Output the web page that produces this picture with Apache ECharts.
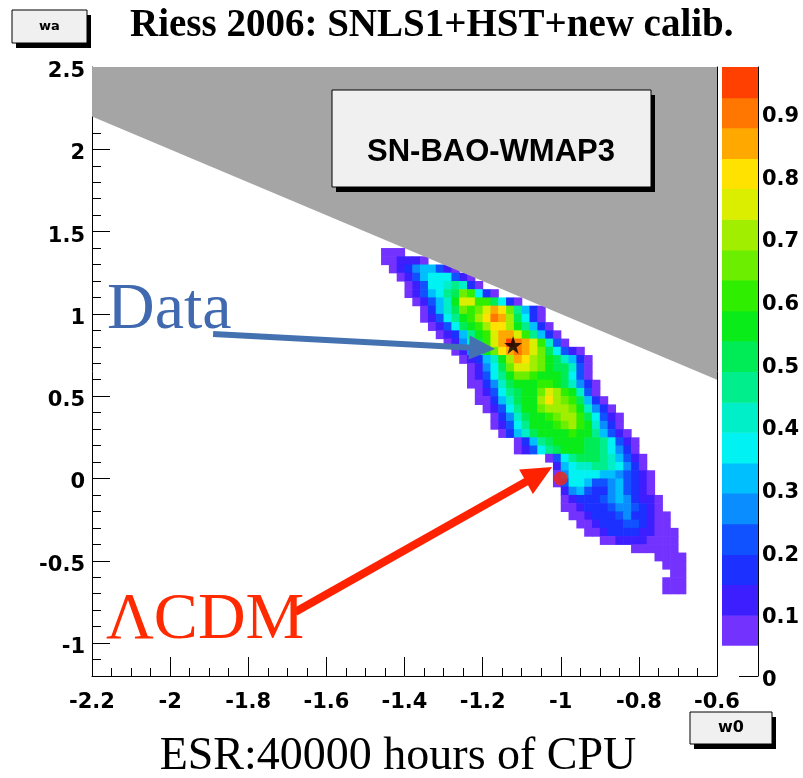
<!DOCTYPE html>
<html>
<head>
<meta charset="utf-8">
<script src="https://cdn.jsdelivr.net/npm/echarts@6/dist/echarts.min.js"></script>
<style>
  html, body { margin: 0; padding: 0; background: #fff; }
  #chart { width: 803px; height: 778px; }
</style>
</head>
<body>
<div id="chart"></div>
<script>
// axis ticks
const w0Ticks = [-2.2, -2, -1.8, -1.6, -1.4, -1.2, -1, -0.8, -0.6];
const waTicks = [-1, -0.5, 0, 0.5, 1, 1.5, 2, 2.5];
const zTicks = [0, 0.1, 0.2, 0.3, 0.4, 0.5, 0.6, 0.7, 0.8, 0.9];

// contour level edges of the palette (level 0 is left white)
const levels = [0, 0.049, 0.097, 0.146, 0.194, 0.243, 0.292, 0.340, 0.389, 0.437, 0.486,
                0.535, 0.583, 0.632, 0.680, 0.729, 0.778, 0.826, 0.875, 0.923, 0.972];
const palette = ['#7432ff', '#3c1eff', '#1c30ff', '#1052ff', '#0a8eff', '#00bfff', '#00f2f2',
                 '#00eec8', '#00ee8c', '#00ec56', '#0aec1a', '#30ee00', '#6cee00', '#a2ee00',
                 '#dcee00', '#ffe200', '#ffa800', '#ff7600', '#ff4000'];

// histogram binning of the likelihood map
const w0Lo = -1.46, w0Bin = 0.02;
const waHi = 1.45, waBin = 0.05;

// one row per wa bin (top to bottom): [first w0 bin, level codes], '1'..'9','a'..'j' = level 1..19
const likelihoodRows = [
  [0, ''],
  [0, '111'],
  [0, '112221'],
  [1, '123566421'],
  [2, '1246777421'],
  [3, '1247789831'],
  [3, '124679adc731'],
  [4, '12468bffcca731'],
  [5, '1368adcdfhgd9631'],
  [5, '12479bcegihea731'],
  [6, '1247abceggeb9631'],
  [7, '12369bcfhhfc9631'],
  [8, '1258acfhjihfc841'],
  [9, '1258bdghihfda7421'],
  [10, '12368behgedba8631'],
  [11, '1257adffedbaa841'],
  [11, '12479bddcbbba741'],
  [11, '11358abbbccba8531'],
  [12, '12479abbdfecb841'],
  [12, '11368abbegedca631'],
  [13, '12479bbdeeedb8531'],
  [14, '1358abbcdeeca7421'],
  [14, '12479bbbcdecb8531'],
  [15, '1368abbbbcbb96421'],
  [17, '1369abbbbaa97421'],
  [17, '12479abbbaa97531'],
  [21, '1479aaa986421'],
  [22, '267889987531'],
  [22, '1577776654321'],
  [22, '1477644564321'],
  [23, '256433564321'],
  [23, '1233345653221'],
  [23, '1123334554321'],
  [24, '1123334533211'],
  [25, '112333443211'],
  [26, '112333322111'],
  [28, '1122221111'],
  [32, '111111'],
  [35, '1111'],
  [36, '111'],
  [37, '11'],
  [36, '111'],
  [36, '111'],
  [0, '']
];

// excluded region (w0 + wa > 0)
const excluded = [[-2.2, 2.2], [-0.6, 0.6], [-0.6, 2.5], [-2.2, 2.5]];

const bestFit = [-1.122, 0.811];
const lcdmPoint = [-1, 0];

// annotation arrows: [fromW0, fromWa, toW0, toWa]
const dataArrow = [-1.89, 0.878, -1.168, 0.787];
const lcdmArrow = [-1.68, -0.811, -1.022, 0.07];
const arrowStyles = [
  { color: '#4472b0', width: 6, headLen: 26, headW: 24 },
  { color: '#ff2200', width: 8, headLen: 30, headW: 28 }
];

const cellData = [];
likelihoodRows.forEach(function (row, j) {
  const start = row[0], codes = row[1];
  for (let n = 0; n < codes.length; n++) {
    const k = parseInt(codes[n], 36);
    if (!k) continue;
    cellData.push([w0Lo + (start + n) * w0Bin, waHi - (j + 1) * waBin, k]);
  }
});

const bandData = [];
for (let k = 1; k < levels.length - 1; k++) {
  bandData.push([k, levels[k], levels[k + 1]]);
}

const labelFont = { fontFamily: 'DejaVu Sans', fontWeight: 'bold', fontSize: 21, color: '#000' };
// labels sit a few px below their tick, as in the ROOT output
const lowLabel = { verticalAlign: 'top', lineHeight: 9 };
const black = { color: '#000', width: 1 };

function renderCell(params, api) {
  const x0 = api.value(0), y0 = api.value(1), k = api.value(2);
  const p0 = api.coord([x0, y0 + waBin]);
  const p1 = api.coord([x0 + w0Bin, y0]);
  return {
    type: 'rect',
    shape: { x: p0[0], y: p0[1], width: p1[0] - p0[0] + 0.6, height: p1[1] - p0[1] + 0.6 },
    style: { fill: palette[k - 1] }
  };
}

function renderExcluded(params, api) {
  return {
    type: 'polygon',
    shape: { points: excluded.map(function (p) { return api.coord(p); }) },
    style: { fill: '#a5a5a5' }
  };
}

function renderBand(params, api) {
  const k = api.value(0);
  const p0 = api.coord([0, api.value(2)]);
  const p1 = api.coord([1, api.value(1)]);
  return {
    type: 'rect',
    shape: { x: p0[0], y: p0[1], width: p1[0] - p0[0], height: p1[1] - p0[1] + 0.5 },
    style: { fill: palette[k - 1] }
  };
}

function renderArrow(params, api) {
  const s = arrowStyles[params.dataIndex];
  const p = api.coord([api.value(0), api.value(1)]);
  const q = api.coord([api.value(2), api.value(3)]);
  const dx = q[0] - p[0], dy = q[1] - p[1], len = Math.hypot(dx, dy);
  const ux = dx / len, uy = dy / len, nx = -uy, ny = ux;
  const bx = q[0] - ux * s.headLen, by = q[1] - uy * s.headLen;
  return {
    type: 'group',
    children: [
      { type: 'line', shape: { x1: p[0], y1: p[1], x2: bx + ux * 3, y2: by + uy * 3 },
        style: { stroke: s.color, lineWidth: s.width } },
      { type: 'polygon',
        shape: { points: [[q[0], q[1]], [bx + nx * s.headW / 2, by + ny * s.headW / 2], [bx - nx * s.headW / 2, by - ny * s.headW / 2]] },
        style: { fill: s.color } }
    ]
  };
}

function box(x, y, w, h, z) {
  return [
    { type: 'rect', z: z, shape: { x: x + 4, y: y + 5, width: w, height: h }, style: { fill: '#000' } },
    { type: 'rect', z: z + 1, shape: { x: x, y: y, width: w, height: h }, style: { fill: '#f0f0f0', stroke: '#000', lineWidth: 1 } }
  ];
}

function label(text, x, y, size, family, weight, color, align) {
  return {
    type: 'text', z: 20, x: x, y: y,
    style: {
      text: text, fontSize: size, fontFamily: family, fontWeight: weight, fill: color,
      align: align, verticalAlign: 'middle', textAlign: align, textVerticalAlign: 'middle'
    }
  };
}

const chart = echarts.init(document.getElementById('chart'));
chart.setOption({
  animation: false,
  backgroundColor: '#fff',
  grid: [
    { left: 92, top: 67, width: 625, height: 609 },
    { left: 722, top: 67, width: 36, height: 609 }
  ],
  xAxis: [
    {
      type: 'value', gridIndex: 0, min: -2.2, max: -0.6, interval: 0.2,
      axisLine: { show: true, onZero: false, lineStyle: black },
      axisTick: { show: true, inside: true, length: 19, lineStyle: black },
      minorTick: { show: true, splitNumber: 4, length: 8, lineStyle: black },
      axisLabel: Object.assign({ margin: 16 }, labelFont),
      splitLine: { show: false }
    },
    { type: 'value', gridIndex: 1, min: 0, max: 1, show: false }
  ],
  yAxis: [
    {
      type: 'value', gridIndex: 0, position: 'left', min: -1.2, max: 2.5, interval: 0.1,
      axisLine: { show: true, onZero: false, lineStyle: black },
      axisTick: { show: true, inside: true, length: 9, lineStyle: black },
      axisLabel: { show: false },
      splitLine: { show: false }
    },
    {
      type: 'value', gridIndex: 0, position: 'left', min: -1.2, max: 2.5,
      axisLine: { show: false },
      axisTick: { show: true, inside: true, length: 18, customValues: waTicks, lineStyle: black },
      axisLabel: Object.assign({ margin: 7, customValues: waTicks }, labelFont, lowLabel),
      splitLine: { show: false }
    },
    {
      type: 'value', gridIndex: 0, position: 'right', min: -1.2, max: 2.5,
      axisLine: { show: true, onZero: false, lineStyle: black },
      axisTick: { show: false }, axisLabel: { show: false }, splitLine: { show: false }
    },
    {
      type: 'value', gridIndex: 1, position: 'right', min: 0, max: levels[levels.length - 1],
      axisLine: { show: true, onZero: false, lineStyle: black },
      axisTick: { show: true, inside: true, length: 19, customValues: zTicks, lineStyle: black },
      axisLabel: Object.assign({ margin: 4, customValues: zTicks }, labelFont, lowLabel),
      splitLine: { show: false }
    }
  ],
  series: [
    { type: 'custom', name: 'likelihood', xAxisIndex: 0, yAxisIndex: 0, renderItem: renderCell,
      data: cellData, z: 2, silent: true, clip: true },
    { type: 'custom', name: 'excluded', xAxisIndex: 0, yAxisIndex: 0, renderItem: renderExcluded,
      data: [excluded[0]], z: 3, silent: true, clip: true },
    { type: 'custom', name: 'palette', xAxisIndex: 1, yAxisIndex: 3, renderItem: renderBand,
      data: bandData, z: 2, silent: true },
    { type: 'scatter', name: 'best fit', xAxisIndex: 0, yAxisIndex: 0, data: [bestFit], z: 5,
      symbol: 'path://M50,0 L61.8,35.1 L98.1,35.1 L68.7,56.7 L79.4,91 L50,70 L20.6,91 L31.3,56.7 L1.9,35.1 L38.2,35.1 Z',
      symbolSize: 18, itemStyle: { color: '#000' }, silent: true },
    { type: 'scatter', name: 'LCDM', xAxisIndex: 0, yAxisIndex: 0, data: [lcdmPoint], z: 5,
      symbol: 'circle', symbolSize: 14, itemStyle: { color: '#f7250a' }, silent: true },
    { type: 'custom', name: 'arrows', xAxisIndex: 0, yAxisIndex: 0, renderItem: renderArrow,
      data: [dataArrow, lcdmArrow], z: 6, silent: true }
  ],
  graphic: [].concat(
    box(12, 10, 75, 33, 10),
    box(332, 90, 319, 97, 10),
    box(690, 712, 82, 32, 10),
    [
      label('wa', 49.5, 26.5, 13, 'DejaVu Sans', 'bold', '#000', 'center'),
      label('SN-BAO-WMAP3', 491, 152, 31, 'Liberation Sans', 'bold', '#000', 'center'),
      label('w0', 731, 728, 16, 'DejaVu Sans', 'bold', '#000', 'center'),
      label('Riess 2006: SNLS1+HST+new calib.', 130, 25.5, 39, 'Liberation Serif', 'bold', '#000', 'left'),
      label('ESR:40000 hours of CPU', 398, 757, 46, 'Liberation Serif', 'normal', '#000', 'center'),
      label('Data', 107, 311, 66, 'Liberation Serif', 'normal', '#4169b0', 'left'),
      label('\u039BCDM', 106, 621, 66, 'Liberation Serif', 'normal', '#ff2a00', 'left')
    ]
  )
});
</script>
</body>
</html>
